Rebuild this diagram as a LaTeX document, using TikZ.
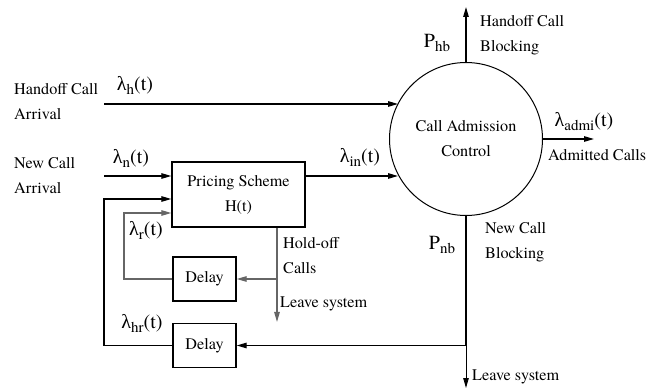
\documentclass[tikz,border=0pt]{standalone}
\usepackage{fontspec}
\setmainfont{TeX Gyre Termes}
\newfontfamily\diagfont{TeX Gyre Termes}
\newfontfamily\greekfont{Liberation Serif}
\usetikzlibrary{arrows.meta,calc}
\newcommand\lsub[1]{\raisebox{-.45ex}{\fontsize{15}{15}\selectfont #1}}
\newcommand\lam{{\greekfont λ}}

\begin{document}
\begin{tikzpicture}[
  x=1pt,y=-1pt,
  font=\diagfont\fontsize{16.2}{25}\selectfont,
  line cap=butt,line join=miter,
  block/.style={draw,line width=1.4pt,minimum width=133pt,minimum height=65pt,
                align=center,inner sep=2pt},
  delaybox/.style={draw,line width=1.4pt,minimum width=63pt,minimum height=44pt,inner sep=2pt},
  rate/.style={font=\diagfont\fontsize{20}{22}\selectfont,inner sep=0pt},
  note/.style={align=left,inner sep=0pt,anchor=west},
  arrow/.style={-{Triangle[length=10pt,width=5.5pt]},line width=1.3pt},
  grayarrow/.style={arrow,draw=black!60}
]
\useasboundingbox (0,0) rectangle (662,390);
\node[draw,circle,line width=1pt,minimum size=153pt,align=center,inner sep=0pt] (cac) at (466,139) {Call Admission\\Control};
\node[block] (price) at (238.5,194.5) {Pricing Scheme\\H(t)};
\node[delaybox] (delayr) at (204.5,279) {Delay};
\node[delaybox] (delayhr) at (204.5,345.5) {Delay};
\coordinate (hin) at (104,104);
\coordinate (nin) at (104,176);
\coordinate (hrin) at (104,199);
\coordinate (rin) at (124,213);
\coordinate (hold) at (277,279);
\coordinate (holdout) at (277,322);
\coordinate (nbturn) at (466,345.5);
\coordinate (nbout) at (466,388);
\coordinate (admout) at (594,139);
\coordinate (hbout) at (466,7);
\draw[arrow] (hin) -- (hin -| cac.152.8);
\draw[arrow] (nin) -- (nin -| price.west);
\draw[arrow] (price.east |- nin) -- (nin -| cac.208.9);
\draw[arrow] (cac.east) -- (admout);
\draw[arrow] (cac.north) -- (hbout);
\draw[arrow] (cac.south) -- (nbturn) -- (delayhr.east);
\draw[arrow,line width=.8pt] (nbturn) -- (nbout);
\draw[arrow] (delayhr.west) -| (hrin) -- (hrin -| price.west);
\draw[grayarrow] (price.south -| hold) -- (hold) -- (holdout);
\draw[grayarrow] (hold) -- (delayr.east);
\draw[grayarrow] (delayr.west) -| (rin) -- (rin -| price.west);
\node[note] (harr) at (14,101.5) {Handoff Call\\Arrival};
\node[note] (narr) at (14,175.5) {New Call\\Arrival};
\node[rate] (lh) at (135,85) {\lam\lsub{h}(t)};
\node[rate] (ln) at (131,158) {\lam\lsub{n}(t)};
\node[rate] (lin) at (360,157) {\lam\lsub{in}(t)};
\node[rate] (ladm) at (584,122) {\lam\lsub{admi}(t)};
\node[rate] (lr) at (146,230) {\lam\lsub{r}(t)};
\node[rate] (lhr) at (142,323) {\lam\lsub{hr}(t)};
\node[rate] (phb) at (437,43) {P\lsub{hb}};
\node[rate] (pnb) at (442,245) {P\lsub{nb}};
\node[note] (admtxt) at (548,155) {Admitted Calls};
\node[note] (hbtxt) at (480,35) {Handoff Call\\Blocking};
\node[note] (nbtxt) at (485,242) {New Call\\Blocking};
\node[note] (hotxt) at (283,256) {Hold-off\\Calls};
\node[note] (leaveho) at (280,304) {Leave system};
\node[note] (leavenb) at (472,377) {Leave system};
\end{tikzpicture}
\end{document}
